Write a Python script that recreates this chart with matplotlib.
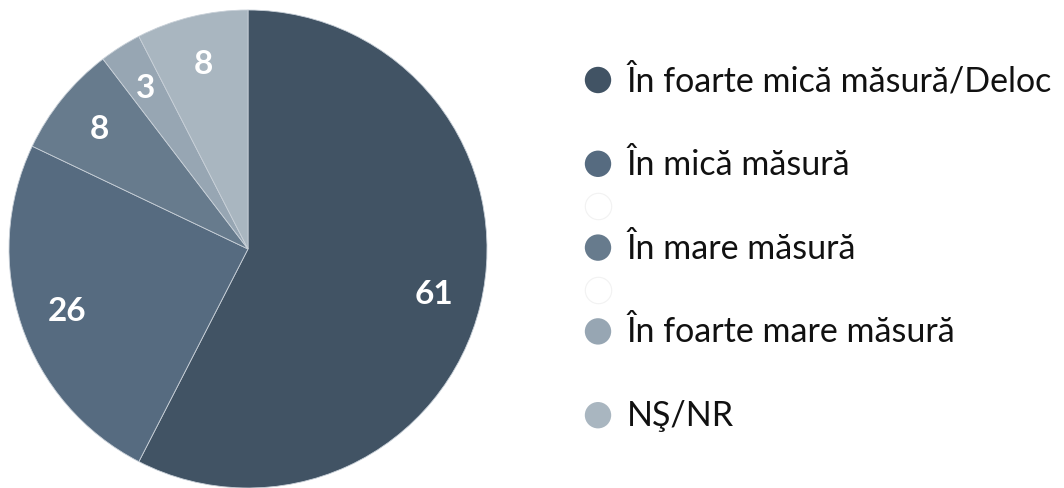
import matplotlib

matplotlib.use("Agg")
import matplotlib.pyplot as plt

plt.rcParams["font.family"] = ["Lato", "DejaVu Sans"]

labels = [
    "În foarte mică măsură/Deloc",
    "În mică măsură",
    "În mare măsură",
    "În foarte mare măsură",
    "NŞ/NR",
]
values = [61, 26, 8, 3, 8]
colors = ["#415364", "#566b80", "#677b8d", "#97a6b3", "#a9b6c0"]

W, H = 1064, 489
fig = plt.figure(figsize=(W / 100, H / 100), dpi=100)

# pie: centre (248, 250) px, radius 239 px
cx, cy, r = 248, 250, 239
ax = fig.add_axes([(cx - r) / W, (H - cy - r) / H, 2 * r / W, 2 * r / H])
vals_iter = iter(values)
ax.pie(values, colors=colors, startangle=90, counterclock=False,
       autopct=lambda p: f"{next(vals_iter)}", pctdistance=0.8,
       wedgeprops=dict(linewidth=0.6, edgecolor="#c8d0d8"),
       textprops=dict(color="white", fontsize=24, fontweight="bold"))
ax.set_xlim(-1, 1)
ax.set_ylim(-1, 1)
ax.set_aspect("equal")

# legend drawn in pixel space
lax = fig.add_axes([0, 0, 1, 1])
lax.set_xlim(0, W)
lax.set_ylim(H, 0)
lax.axis("off")
y0, step = 81, 83.8
for i, (lab, col) in enumerate(zip(labels, colors)):
    y = y0 + i * step
    lax.scatter([598], [y], s=19 ** 2, color=col, edgecolor="none")
    lax.text(627, y, lab, fontsize=24.5, va="center", ha="left", color="#111111")
# faint empty markers between entries 2-3 and 3-4
for i in (1, 2):
    y = y0 + (i + 0.5) * step
    lax.scatter([598], [y], s=19 ** 2, color="white", edgecolor="#f2f2f2",
                linewidth=0.8)

fig.savefig("out.png", dpi=100)
